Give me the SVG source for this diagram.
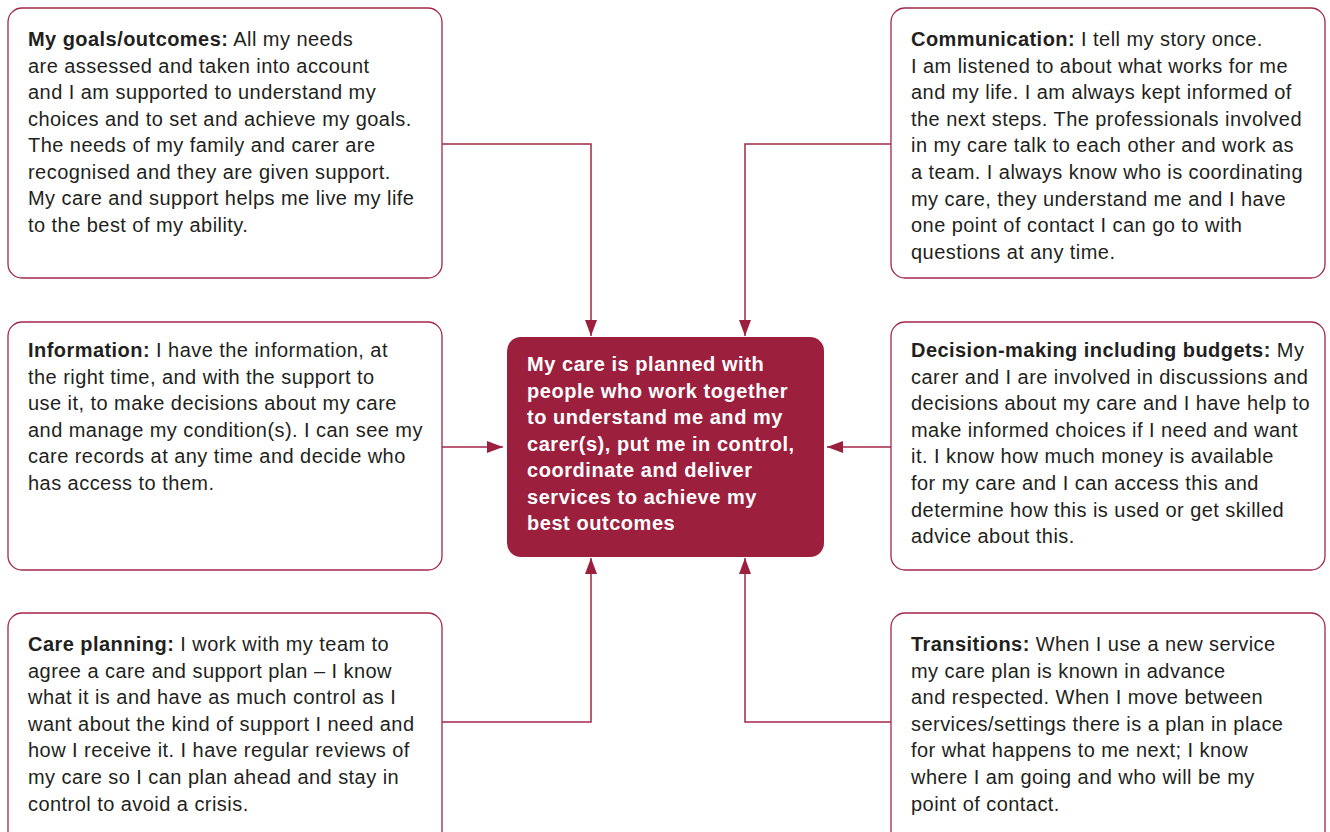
<svg xmlns="http://www.w3.org/2000/svg" width="1330" height="832" viewBox="0 0 1330 832">
<defs>
<style>
.box{fill:#ffffff;stroke:#a3284a;stroke-width:1.3}
.core{fill:#9c203e;stroke:none}
.t{font-family:"Liberation Sans",Arial,sans-serif;font-size:20px;letter-spacing:0.45px;fill:#231f20}
.b{font-weight:bold}
.ct{font-family:"Liberation Sans",Arial,sans-serif;font-size:20px;font-weight:bold;letter-spacing:0.55px;fill:#ffffff}
.conn{fill:none;stroke:#a3284a;stroke-width:1.5}
</style>
<marker id="arr" markerUnits="userSpaceOnUse" markerWidth="16" markerHeight="12" refX="16" refY="6" orient="auto" viewBox="0 0 16 12">
<path d="M0,0 L16,6 L0,12 Z" fill="#9c203e"/>
</marker>
</defs>
<rect width="1330" height="832" fill="#ffffff"/>

<g id="connectors">
<path class="conn" d="M442,144 H591 V336" marker-end="url(#arr)"/>
<path class="conn" d="M891,144 H745 V336" marker-end="url(#arr)"/>
<path class="conn" d="M442,447 H503" marker-end="url(#arr)"/>
<path class="conn" d="M891,447 H827" marker-end="url(#arr)"/>
<path class="conn" d="M442,722 H591 V558" marker-end="url(#arr)"/>
<path class="conn" d="M891,722 H745 V558" marker-end="url(#arr)"/>
</g>

<g id="goals">
<rect class="box" x="8" y="8" width="434" height="270" rx="14"/>
<text class="t" x="28" y="46"><tspan class="b">My goals/outcomes:</tspan> All my needs<tspan x="28" dy="26.55">are assessed and taken into account</tspan><tspan x="28" dy="26.55">and I am supported to understand my</tspan><tspan x="28" dy="26.55">choices and to set and achieve my goals.</tspan><tspan x="28" dy="26.55">The needs of my family and carer are</tspan><tspan x="28" dy="26.55">recognised and they are given support.</tspan><tspan x="28" dy="26.55">My care and support helps me live my life</tspan><tspan x="28" dy="26.55">to the best of my ability.</tspan></text>
</g>

<g id="communication">
<rect class="box" x="891" y="8" width="434" height="270" rx="14"/>
<text class="t" x="911" y="46"><tspan class="b">Communication:</tspan> I tell my story once.<tspan x="911" dy="26.6">I am listened to about what works for me</tspan><tspan x="911" dy="26.6">and my life. I am always kept informed of</tspan><tspan x="911" dy="26.6">the next steps. The professionals involved</tspan><tspan x="911" dy="26.6">in my care talk to each other and work as</tspan><tspan x="911" dy="26.6">a team. I always know who is coordinating</tspan><tspan x="911" dy="26.6">my care, they understand me and I have</tspan><tspan x="911" dy="26.6">one point of contact I can go to with</tspan><tspan x="911" dy="26.6">questions at any time.</tspan></text>
</g>

<g id="information">
<rect class="box" x="8" y="322" width="434" height="248" rx="14"/>
<text class="t" x="28" y="357"><tspan class="b">Information:</tspan> I have the information, at<tspan x="28" dy="26.6">the right time, and with the support to</tspan><tspan x="28" dy="26.6">use it, to make decisions about my care</tspan><tspan x="28" dy="26.6">and manage my condition(s). I can see my</tspan><tspan x="28" dy="26.6">care records at any time and decide who</tspan><tspan x="28" dy="26.6">has access to them.</tspan></text>
</g>

<g id="decision">
<rect class="box" x="891" y="322" width="434" height="248" rx="14"/>
<text class="t" x="911" y="357"><tspan class="b">Decision-making including budgets:</tspan> My<tspan x="911" dy="26.6">carer and I are involved in discussions and</tspan><tspan x="911" dy="26.6">decisions about my care and I have help to</tspan><tspan x="911" dy="26.6">make informed choices if I need and want</tspan><tspan x="911" dy="26.6">it. I know how much money is available</tspan><tspan x="911" dy="26.6">for my care and I can access this and</tspan><tspan x="911" dy="26.6">determine how this is used or get skilled</tspan><tspan x="911" dy="26.6">advice about this.</tspan></text>
</g>

<g id="care-planning">
<rect class="box" x="8" y="613" width="434" height="240" rx="14"/>
<text class="t" x="28" y="651"><tspan class="b">Care planning:</tspan> I work with my team to<tspan x="28" dy="26.6">agree a care and support plan – I know</tspan><tspan x="28" dy="26.6">what it is and have as much control as I</tspan><tspan x="28" dy="26.6">want about the kind of support I need and</tspan><tspan x="28" dy="26.6">how I receive it. I have regular reviews of</tspan><tspan x="28" dy="26.6">my care so I can plan ahead and stay in</tspan><tspan x="28" dy="26.6">control to avoid a crisis.</tspan></text>
</g>

<g id="transitions">
<rect class="box" x="891" y="613" width="434" height="240" rx="14"/>
<text class="t" x="911" y="651"><tspan class="b">Transitions:</tspan> When I use a new service<tspan x="911" dy="26.6">my care plan is known in advance</tspan><tspan x="911" dy="26.6">and respected. When I move between</tspan><tspan x="911" dy="26.6">services/settings there is a plan in place</tspan><tspan x="911" dy="26.6">for what happens to me next; I know</tspan><tspan x="911" dy="26.6">where I am going and who will be my</tspan><tspan x="911" dy="26.6">point of contact.</tspan></text>
</g>

<g id="centre">
<rect class="core" x="507" y="337" width="317" height="220" rx="14"/>
<text class="ct" x="527" y="371">My care is planned with<tspan x="527" dy="26.55">people who work together</tspan><tspan x="527" dy="26.55">to understand me and my</tspan><tspan x="527" dy="26.55">carer(s), put me in control,</tspan><tspan x="527" dy="26.55">coordinate and deliver</tspan><tspan x="527" dy="26.55">services to achieve my</tspan><tspan x="527" dy="26.55">best outcomes</tspan></text>
</g>
</svg>
